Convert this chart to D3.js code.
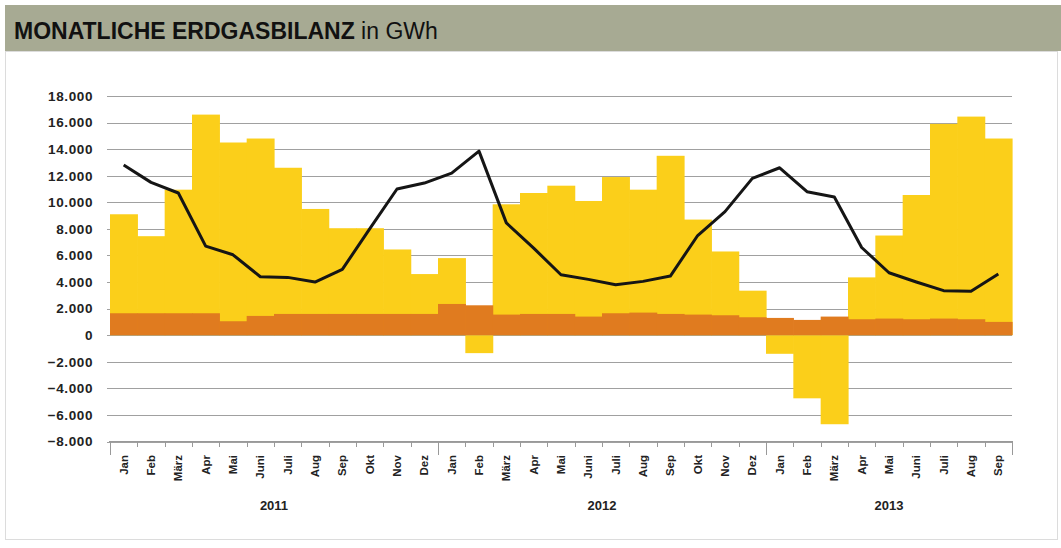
<!DOCTYPE html>
<html><head><meta charset="utf-8">
<script src="https://cdn.jsdelivr.net/npm/d3@7"></script>
<style>
html,body{margin:0;padding:0;background:#fff;}
svg{display:block;font-family:"Liberation Sans",Arial,sans-serif;}
</style></head>
<body><svg id="c" width="1061" height="548"></svg>
<script>
const monthNames = ["Jan","Feb","März","Apr","Mai","Juni","Juli","Aug","Sep","Okt","Nov","Dez"];
const years = ["2011","2012","2013"];
const monthsPerYear = [12,12,9];
// yellow bars (top of the bar, negative values go below zero), GWh
const yellowTop = [9100,7450,10950,16600,14500,14800,12600,9500,8050,8050,6450,4600,
  5800,-1350,9850,10700,11250,10100,11900,10950,13500,8700,6300,3350,
  -1400,-4750,-6700,4350,7500,10550,15900,16450,14800];
// orange base bars, GWh
const orange = [1650,1650,1650,1650,1050,1450,1600,1600,1600,1600,1600,1600,
  2350,2250,1550,1600,1600,1400,1650,1700,1600,1550,1500,1350,
  1300,1150,1400,1200,1250,1200,1250,1200,1000];
// black line, GWh
const line = [12800,11500,10700,6700,6050,4400,4350,4000,4950,8000,11000,11450,
  12200,13850,8450,6550,4550,4200,3800,4050,4450,7500,9300,11800,
  12600,10800,10400,6600,4700,4000,3350,3300,4600];
const yTicks = [18000,16000,14000,12000,10000,8000,6000,4000,2000,0,-2000,-4000,-6000,-8000];

const months = [];
years.forEach((y,yi)=>{ for(let m=0;m<monthsPerYear[yi];m++) months.push({key:y+"-"+m, name:monthNames[m], year:y}); });

const svg = d3.select("#c");
// title bar
svg.append("rect").attr("x",5).attr("y",5).attr("width",1056).attr("height",46).attr("fill","#a7aa93");
const t = svg.append("text").attr("x",14).attr("y",39).attr("fill","#111").style("font-size","23px");
t.append("tspan").attr("font-weight","bold").text("MONATLICHE ERDGASBILANZ");
t.append("tspan").attr("font-weight","normal").text(" in GWh");
// panel
svg.append("rect").attr("x",5.5).attr("y",51.5).attr("width",1052).attr("height",488).attr("fill","#fff").attr("stroke","#dcdcdc");

const x = d3.scaleBand().domain(months.map(d=>d.key)).range([110,1012]).paddingInner(0).paddingOuter(0);
const y = d3.scaleLinear().domain([-8000,18000]).range([441.5,96]);

const fmt = v => d3.format(",")(v).replace(/,/g,".");
// gridlines
svg.append("g").selectAll("line").data(yTicks).join("line")
  .attr("x1",107).attr("x2",1012).attr("y1",d=>Math.round(y(d))+0.5).attr("y2",d=>Math.round(y(d))+0.5)
  .attr("stroke","#a0a0a0").attr("stroke-width",1);
// y labels
const yAxis = d3.axisLeft(y).tickValues(yTicks).tickFormat(fmt).tickSize(0).tickPadding(0);
const ga = svg.append("g").attr("transform","translate(93,0)").call(yAxis);
ga.select(".domain").remove();
ga.selectAll("text").style("font-size","13.5px").style("letter-spacing","0.6px").attr("fill","#222").attr("font-weight","bold");

// yellow bars
svg.append("g").selectAll("rect").data(months).join("rect")
  .attr("x",d=>x(d.key)).attr("width",x.bandwidth()+0.6)
  .attr("y",(d,i)=>y(Math.max(0,yellowTop[i])))
  .attr("height",(d,i)=>Math.abs(y(yellowTop[i])-y(0)))
  .attr("fill","#fbcf1a");
// orange bars
svg.append("g").selectAll("rect").data(months).join("rect")
  .attr("x",d=>x(d.key)).attr("width",x.bandwidth()+0.6)
  .attr("y",(d,i)=>y(orange[i]))
  .attr("height",(d,i)=>y(0)-y(orange[i]))
  .attr("fill","#e07b1f");

// line
const lg = d3.line().x((d,i)=>x(months[i].key)+x.bandwidth()/2).y(d=>y(d));
svg.append("path").datum(line).attr("d",lg).attr("fill","none").attr("stroke","#151515").attr("stroke-width",3).attr("stroke-linejoin","round");

// x axis
const axY = 441.5;
svg.append("line").attr("x1",109).attr("x2",1013).attr("y1",axY).attr("y2",axY).attr("stroke","#999");
const bounds = d3.range(months.length+1);
let cum=0; const yearStarts=[0]; monthsPerYear.forEach(n=>{cum+=n; yearStarts.push(cum);});
svg.append("g").selectAll("line").data(bounds).join("line")
  .attr("x1",i=>Math.round(110+i*x.step())+0.5).attr("x2",i=>Math.round(110+i*x.step())+0.5)
  .attr("y1",axY).attr("y2",i=>yearStarts.includes(i)?455:447)
  .attr("stroke","#999");
svg.append("g").selectAll("text").data(months).join("text")
  .attr("transform",d=>`translate(${x(d.key)+x.bandwidth()/2+4},455) rotate(-90)`)
  .attr("text-anchor","end").attr("fill","#222").style("font-size","11.5px").attr("font-weight","bold")
  .text(d=>d.name);
svg.append("g").selectAll("text").data(years).join("text")
  .attr("x",(d,i)=>{const a=x(months[yearStarts[i]].key); const b=x(months[yearStarts[i+1]-1].key)+x.bandwidth(); return (a+b)/2;})
  .attr("y",510).attr("text-anchor","middle").attr("fill","#222").style("font-size","13px").attr("font-weight","bold")
  .text(d=>d);
</script></body></html>
